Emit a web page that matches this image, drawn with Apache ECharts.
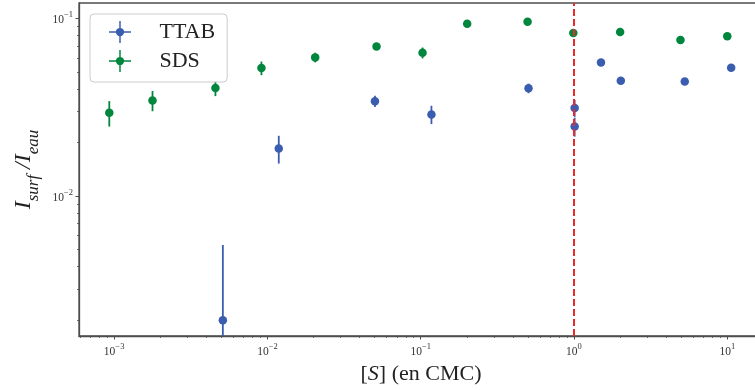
<!DOCTYPE html>
<html>
<head>
<meta charset="utf-8">
<script src="https://cdn.jsdelivr.net/npm/echarts@6/dist/echarts.min.js"></script>
<style>html,body{margin:0;padding:0;background:#fff;overflow:hidden}#c{width:763px;height:390px}</style>
</head>
<body>
<div id="c"></div>
<script>
// ---- data ----
const ttabX = [0.00512, 0.01186, 0.0503, 0.1175, 0.505, 1.01, 1.01, 1.50, 2.02, 5.28, 10.6];
const ttabY = [0.00200, 0.01853, 0.0342, 0.0288, 0.0404, 0.0313, 0.0246, 0.0565, 0.0445, 0.0441, 0.0527];
const ttabErr = [0.0033, 0.0033, 0.0025, 0.0034, 0.0025, 0.0034, 0.0030, 0.0010, 0.0020, 0.0020, 0.0012];

const sdsX = [0.00093, 0.00178, 0.00458, 0.00914, 0.0205, 0.0515, 0.1028, 0.201, 0.498, 0.99, 2.0, 4.95, 10.0];
const sdsY = [0.0294, 0.0345, 0.0405, 0.0525, 0.0603, 0.0695, 0.0640, 0.0933, 0.0957, 0.0826, 0.0837, 0.0755, 0.0792];
const sdsErr = [0.0048, 0.0045, 0.0040, 0.0046, 0.0038, 0.0030, 0.0045, 0.0010, 0.0010, 0.0012, 0.0012, 0.0030, 0.0020];

const cmcLine = 1;
const xMajor = [1e-3, 1e-2, 1e-1, 1, 10];
const xMinor = [6e-4,7e-4,8e-4,9e-4, 2e-3,3e-3,4e-3,5e-3,6e-3,7e-3,8e-3,9e-3,
                2e-2,3e-2,4e-2,5e-2,6e-2,7e-2,8e-2,9e-2, 0.2,0.3,0.4,0.5,0.6,0.7,0.8,0.9,
                2,3,4,5,6,7,8,9];
const yMajor = [1e-2, 1e-1];
const yMinor = [2e-3,3e-3,4e-3,5e-3,6e-3,7e-3,8e-3,9e-3, 2e-2,3e-2,4e-2,5e-2,6e-2,7e-2,8e-2,9e-2];
const xMin = 5.9e-4, xMax = 17.1;
const yMin = 1.63e-3, yMax = 0.122;

// ---- style ----
const BLUE = '#3a5daf', GREEN = '#00873d', RED = '#ea2a2a', AX = '#4d4d4d';
const SERIF = '"Liberation Serif", "DejaVu Serif", serif';

function expLabel(v) {
  const e = Math.round(Math.log10(v));
  return '{b|10}{s|' + String(e).replace('-', '\u2212') + '}';
}
const tickRich = {
  b: {fontFamily: SERIF, fontSize: 11.5, color: '#333', lineHeight: 16, verticalAlign: 'bottom'},
  s: {fontFamily: SERIF, fontSize: 8.5, color: '#333', lineHeight: 16, verticalAlign: 'top'}
};
const errIcon = 'path://M0 11.2H24V12.8H0Z M11.2 0H12.8V24H11.2Z M7.5 12A4.5 4.5 0 1 1 16.5 12A4.5 4.5 0 1 1 7.5 12Z';

function errSeries(name, xs, ys, es, color) {
  return {
    name: name, type: 'custom', xAxisIndex: 0, yAxisIndex: 0, z: 2, silent: true,
    itemStyle: {color: color},
    data: xs.map((x, i) => [x, ys[i], es[i]]),
    renderItem: function (params, api) {
      const x = api.value(0), y = api.value(1), e = api.value(2);
      const lo = Math.max(y - e, yMin), hi = Math.min(y + e, yMax);
      const p1 = api.coord([x, lo]), p2 = api.coord([x, hi]);
      return {type: 'line', shape: {x1: p1[0], y1: p1[1], x2: p2[0], y2: p2[1]},
              style: {stroke: color, lineWidth: 1.8}};
    }
  };
}

const chart = echarts.init(document.getElementById('c'), null, {renderer: 'canvas'});
chart.setOption({
  animation: false,
  backgroundColor: '#fff',
  grid: {left: 79, top: 3, right: 0, bottom: 54, show: true, borderColor: AX, borderWidth: 1.3, backgroundColor: 'transparent'},
  legend: {
    left: 90, top: 14, orient: 'vertical',
    padding: [7, 12, 10, 19],
    itemWidth: 23, itemHeight: 22, itemGap: 7,
    backgroundColor: 'rgba(255,255,255,0.85)', borderColor: '#cccccc', borderWidth: 1, borderRadius: 4,
    textStyle: {fontFamily: SERIF, fontSize: 22, color: '#222', padding: [0, 0, 0, 23]},
    data: [{name: 'TTAB', icon: errIcon, itemStyle: {color: BLUE}},
           {name: 'SDS', icon: errIcon, itemStyle: {color: GREEN}}]
  },
  xAxis: [
    {type: 'log', min: xMin, max: xMax, position: 'bottom',
     axisLine: {show: true, lineStyle: {color: AX, width: 1.3}},
     axisTick: {show: true, length: 3.5, lineStyle: {color: AX, width: 1}, customValues: xMajor},
     axisLabel: {show: true, margin: 6, customValues: xMajor, formatter: expLabel, rich: tickRich},
     splitLine: {show: false},
     name: '{n|[}{it|S}{n|] (en CMC)}', nameLocation: 'middle', nameGap: 20,
     nameTextStyle: {rich: {
       n: {fontFamily: SERIF, fontSize: 22, color: '#222'},
       it: {fontFamily: SERIF, fontSize: 22, fontStyle: 'italic', color: '#222'}}}
    },
    {type: 'log', min: xMin, max: xMax, position: 'bottom',
     axisLine: {show: false},
     axisTick: {show: true, length: 2, lineStyle: {color: AX, width: 0.8}, customValues: xMinor},
     axisLabel: {show: false}, splitLine: {show: false}}
  ],
  yAxis: [
    {type: 'log', min: yMin, max: yMax, position: 'left',
     axisLine: {show: true, lineStyle: {color: AX, width: 1.3}},
     axisTick: {show: true, length: 3.5, lineStyle: {color: AX, width: 1}, customValues: yMajor},
     axisLabel: {show: true, margin: 6, customValues: yMajor, formatter: expLabel, rich: tickRich},
     splitLine: {show: false},
     name: '{i|I}{sub|surf}{i| /I}{sub|eau}', nameLocation: 'middle', nameGap: 34, nameRotate: 90,
     nameTextStyle: {rich: {
       i: {fontFamily: SERIF, fontSize: 24, fontStyle: 'italic', color: '#222', lineHeight: 30, verticalAlign: 'top'},
       sub: {fontFamily: SERIF, fontSize: 17, fontStyle: 'italic', color: '#222', lineHeight: 30, verticalAlign: 'bottom'}}}
    },
    {type: 'log', min: yMin, max: yMax, position: 'left',
     axisLine: {show: false},
     axisTick: {show: true, length: 2, lineStyle: {color: AX, width: 0.8}, customValues: yMinor},
     axisLabel: {show: false}, splitLine: {show: false}}
  ],
  series: [
    errSeries('TTAB', ttabX, ttabY, ttabErr, BLUE),
    {name: 'TTAB', type: 'scatter', xAxisIndex: 0, yAxisIndex: 0, z: 3,
     symbol: 'circle', symbolSize: 8.5, itemStyle: {color: BLUE, opacity: 1},
     data: ttabX.map((x, i) => [x, ttabY[i]]),
     markLine: {silent: true, symbol: 'none', animation: false, label: {show: false},
       lineStyle: {color: RED, type: [7, 3], width: 2},
       data: [{xAxis: cmcLine}]}
    },
    errSeries('SDS', sdsX, sdsY, sdsErr, GREEN),
    {name: 'SDS', type: 'scatter', xAxisIndex: 0, yAxisIndex: 0, z: 3,
     symbol: 'circle', symbolSize: 8.5, itemStyle: {color: GREEN, opacity: 1},
     data: sdsX.map((x, i) => [x, sdsY[i]])}
  ]
});
</script>
</body>
</html>
